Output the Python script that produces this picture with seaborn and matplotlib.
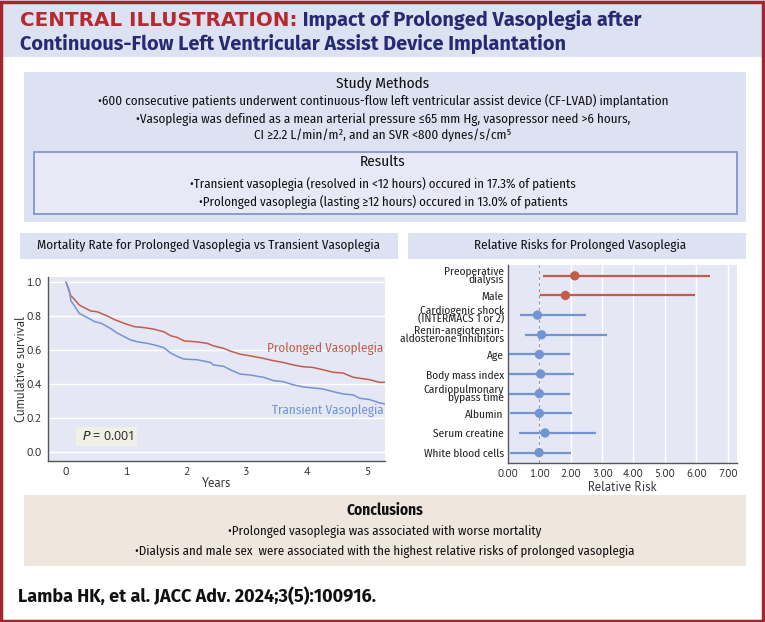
import numpy as np
import pandas as pd
import matplotlib
matplotlib.use("Agg")
import matplotlib.pyplot as plt
import seaborn as sns
from matplotlib.patches import Rectangle

# ---- data ----
years_prolonged = [0, 0.08, 0.11, 0.22, 0.41, 0.52, 0.69, 0.80, 0.96, 1.13, 1.30, 1.46,
                   1.63, 1.74, 1.85, 1.96, 2.18, 2.34, 2.45, 2.62, 2.73, 2.89, 3.06,
                   3.28, 3.45, 3.61, 3.78, 3.94, 4.10, 4.27, 4.44, 4.60, 4.77, 4.88,
                   5.04, 5.21, 5.30]
surv_prolonged = [1.0, 0.918, 0.91, 0.865, 0.83, 0.825, 0.80, 0.78, 0.758, 0.738, 0.732,
                  0.723, 0.707, 0.684, 0.674, 0.654, 0.648, 0.64, 0.625, 0.61, 0.594,
                  0.576, 0.566, 0.551, 0.537, 0.527, 0.512, 0.502, 0.498, 0.484, 0.469,
                  0.465, 0.44, 0.434, 0.426, 0.41, 0.41]
years_transient = [0, 0.055, 0.08, 0.14, 0.22, 0.36, 0.47, 0.58, 0.74, 0.85, 0.96, 1.07,
                   1.19, 1.35, 1.52, 1.63, 1.74, 1.85, 1.96, 2.18, 2.40, 2.45, 2.62,
                   2.73, 2.89, 3.06, 3.28, 3.45, 3.61, 3.78, 3.94, 4.10, 4.27, 4.44,
                   4.60, 4.77, 4.88, 5.04, 5.21, 5.30]
surv_transient = [1.0, 0.947, 0.89, 0.86, 0.816, 0.79, 0.768, 0.758, 0.727, 0.70, 0.68,
                  0.66, 0.648, 0.64, 0.625, 0.613, 0.582, 0.562, 0.547, 0.543, 0.527,
                  0.512, 0.504, 0.484, 0.459, 0.453, 0.44, 0.42, 0.414, 0.395, 0.383,
                  0.377, 0.371, 0.355, 0.342, 0.336, 0.316, 0.309, 0.289, 0.283]

risk_factors = ["Preoperative\ndialysis", "Male", "Cardiogenic shock\n(INTERMACS 1 or 2)",
                "Renin-angiotensin-\naldosterone inhibitors", "Age", "Body mass index",
                "Cardiopulmonary\nbypass time", "Albumin", "Serum creatine",
                "White blood cells"]
relative_risk = [2.13, 1.83, 0.94, 1.07, 1.00, 1.04, 1.00, 1.00, 1.18, 0.99]
ci_low = [1.10, 1.03, 0.39, 0.54, 0.03, 0.03, 0.00, 0.06, 0.35, 0.06]
ci_high = [6.45, 5.95, 2.50, 3.17, 1.99, 2.11, 1.99, 2.04, 2.82, 2.00]
highlighted = [True, True, False, False, False, False, False, False, False, False]

methods_lines = [
    "\u2022600 consecutive patients underwent continuous-flow left ventricular assist device (CF-LVAD) implantation",
    "\u2022Vasoplegia was defined as a mean arterial pressure \u226465 mm Hg, vasopressor need >6 hours,",
    "CI \u22652.2 L/min/m\u00b2, and an SVR <800 dynes/s/cm\u2075",
]
results_lines = [
    "\u2022Transient vasoplegia (resolved in <12 hours) occured in 17.3% of patients",
    "\u2022Prolonged vasoplegia (lasting \u226512 hours) occured in 13.0% of patients",
]
conclusion_lines = [
    "\u2022Prolonged vasoplegia was associated with worse mortality",
    "\u2022Dialysis and male sex  were associated with the highest relative risks of prolonged vasoplegia",
]

# ---- styling ----
sns.set_theme(style="white")
COND = ["Fira Sans Condensed", "Roboto Condensed", "PT Sans Narrow", "Archivo Narrow",
        "Open Sans", "DejaVu Sans"]
HEAD = ["Fira Sans", "Open Sans", "DejaVu Sans"]
TICKF = ["PT Sans", "Open Sans", "DejaVu Sans"]
plt.rcParams["font.family"] = COND

RED_BORDER = "#a3262e"
TITLE_RED = "#b5292f"
NAVY = "#262a72"
LAV = "#dde2f2"
AX_BG = "#e5e7f4"
RED = "#c25c4c"
BLUE = "#7394d3"

W, H = 765, 622
fig = plt.figure(figsize=(W / 100, H / 100), dpi=100)

# background canvas in pixel coordinates
bg = fig.add_axes([0, 0, 1, 1])
bg.set_xlim(0, W)
bg.set_ylim(H, 0)
bg.axis("off")


def box(x0, y0, x1, y1, fc, ec="none", lw=0):
    bg.add_patch(Rectangle((x0, y0), x1 - x0, y1 - y0, fc=fc, ec=ec, lw=lw))


def px_axes(x0, y0, x1, y1):
    return fig.add_axes([x0 / W, 1 - y1 / H, (x1 - x0) / W, (y1 - y0) / H])


# header
box(0, 0, W, 57, LAV)
t1 = bg.text(20, 26, "CENTRAL ILLUSTRATION:", color=TITLE_RED, fontsize=14.3,
             fontweight="bold", va="baseline", family="DejaVu Sans")
bg.annotate(" Impact of Prolonged Vasoplegia after", xy=(1, 0), xycoords=t1,
            va="bottom", ha="left", color=NAVY, fontsize=14.3, fontweight="bold",
            family=HEAD)
bg.text(20, 50, "Continuous-Flow Left Ventricular Assist Device Implantation",
        color=NAVY, fontsize=14.3, fontweight="bold", va="baseline", family=HEAD)

# study methods / results
box(24, 72, 746, 222, LAV)
bg.text(383, 84, "Study Methods", ha="center", va="center", fontsize=11, color="#111")
for y, line in zip([101, 119, 135], methods_lines):
    bg.text(383, y, line, ha="center", va="center", fontsize=9.4, color="#111")
box(34, 152, 737, 214, "#e7eaf6", ec="#7f97c9", lw=1.3)
bg.text(383, 162, "Results", ha="center", va="center", fontsize=11, color="#111")
for y, line in zip([184, 202], results_lines):
    bg.text(383, y, line, ha="center", va="center", fontsize=9.3, color="#111")

# panel titles
box(20, 233, 398, 259, LAV)
bg.text(209, 246, "Mortality Rate for Prolonged Vasoplegia vs Transient Vasoplegia",
        ha="center", va="center", fontsize=9.4, color="#111")
box(408, 233, 746, 259, LAV)
bg.text(580, 246, "Relative Risks for Prolonged Vasoplegia",
        ha="center", va="center", fontsize=9.4, color="#111")

# conclusions
box(24, 495, 746, 566, "#efe6dd")
bg.text(385, 510, "Conclusions", ha="center", va="center", fontsize=11,
        fontweight="bold", color="#111")
for y, line in zip([532, 551], conclusion_lines):
    bg.text(385, y, line, ha="center", va="center", fontsize=9.3, color="#111")

bg.text(18, 596, "Lamba HK, et al. JACC Adv. 2024;3(5):100916.", va="center",
        fontsize=13, fontweight="bold", color="#111", family=HEAD)

# outer border
bg.add_patch(Rectangle((1.5, 1.5), W - 3, H - 3, fc="none", ec=RED_BORDER, lw=2.5))

# ---- Kaplan-Meier panel ----
km = pd.concat([
    pd.DataFrame({"Years": years_prolonged, "Survival": surv_prolonged,
                  "Group": "Prolonged Vasoplegia"}),
    pd.DataFrame({"Years": years_transient, "Survival": surv_transient,
                  "Group": "Transient Vasoplegia"}),
])
ax1 = px_axes(48, 277, 385, 461)
ax1.set_facecolor(AX_BG)
sns.lineplot(data=km, x="Years", y="Survival", hue="Group",
             palette={"Prolonged Vasoplegia": RED, "Transient Vasoplegia": BLUE},
             lw=1.1, legend=False, ax=ax1, estimator=None)
ax1.set_xlim(-0.30, 5.30)
ax1.set_ylim(-0.053, 1.03)
ax1.set_yticks(np.arange(0, 1.01, 0.2))
ax1.set_yticklabels([f"{v:.1f}" for v in np.arange(0, 1.01, 0.2)])
ax1.set_xticks(range(6))
ax1.grid(axis="y", color="white", lw=1)
ax1.set_axisbelow(True)
for s in ["top", "right"]:
    ax1.spines[s].set_visible(False)
for s in ["left", "bottom"]:
    ax1.spines[s].set_color("#555")
    ax1.spines[s].set_linewidth(1)
ax1.tick_params(axis="both", direction="out", length=3, width=0.8, color="#555",
                labelsize=8.5, labelcolor="#333", pad=1.5)
for lbl in ax1.get_xticklabels() + ax1.get_yticklabels():
    lbl.set_family(TICKF)
ax1.set_xlabel("Years", fontsize=9, color="#333", labelpad=0, family=TICKF)
ax1.set_ylabel("Cumulative survival", fontsize=9, color="#333", labelpad=-1,
               family=TICKF)
ax1.text(5.27, 0.61, "Prolonged Vasoplegia", color=RED, fontsize=9.4,
         ha="right", va="center")
ax1.text(5.27, 0.245, "Transient Vasoplegia", color=BLUE, fontsize=9.4,
         ha="right", va="center")
ax1.add_patch(Rectangle((0.17, 0.035), 1.01, 0.112, fc="#f0f0e6", ec="none", zorder=2))
ax1.text(0.27, 0.091, "$P$ = 0.001", fontsize=9, va="center", ha="left",
         family=["Open Sans", "DejaVu Sans"], color="#222", zorder=3)

# ---- forest plot panel ----
rr = pd.DataFrame({"factor": risk_factors, "rr": relative_risk, "lo": ci_low,
                   "hi": ci_high, "highlighted": highlighted})
rr["pos"] = np.arange(len(rr))
ax2 = px_axes(508, 265, 737, 463)
ax2.set_facecolor(AX_BG)
ax2.set_axisbelow(True)
ax2.grid(axis="x", color="white", lw=1)
ax2.grid(axis="y", visible=False)
ax2.axvline(1.0, color="#9a9aa6", lw=0.8, ls=(0, (3, 2.5)), zorder=1)
colors = rr["highlighted"].map({True: RED, False: BLUE})
ax2.hlines(rr["pos"], rr["lo"], rr["hi"], colors=colors, lw=1.6, zorder=2)
sns.scatterplot(data=rr, x="rr", y="pos", hue="highlighted",
                palette={True: RED, False: BLUE}, s=45, edgecolor="none",
                legend=False, ax=ax2, zorder=3)
ax2.set_xlim(0, 7.3)
ax2.set_ylim(len(rr) - 0.47, -0.55)
ax2.set_xticks(range(8))
ax2.set_xticklabels([f"{v:.2f}" for v in range(8)])
ax2.set_yticks(rr["pos"])
ax2.set_yticklabels(rr["factor"])
for s in ["top", "right"]:
    ax2.spines[s].set_visible(False)
for s in ["left", "bottom"]:
    ax2.spines[s].set_color("#555")
    ax2.spines[s].set_linewidth(1)
ax2.tick_params(axis="x", direction="out", length=3, width=0.8, color="#555",
                labelsize=8, labelcolor="#333", pad=1.5)
ax2.tick_params(axis="y", length=0, labelsize=8.2, labelcolor="#222", pad=3)
for lbl in ax2.get_yticklabels():
    lbl.set_linespacing(0.7)
for lbl in ax2.get_xticklabels():
    lbl.set_family(TICKF)
ax2.set_xlabel("Relative Risk", fontsize=9, color="#333", labelpad=1, family=TICKF)
ax2.set_ylabel("")

fig.savefig("out.png", dpi=100)
